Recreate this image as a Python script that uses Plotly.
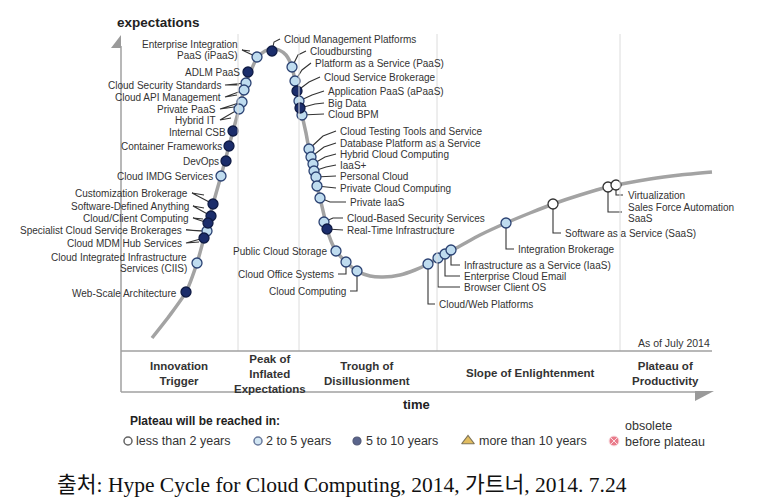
import plotly.graph_objects as go

# ---------------- data ----------------
# Hype curve (time, expectations) (pixel-like units)
curve_x = [152, 170, 186, 197, 204, 213, 221, 229, 239, 246, 257, 265, 272, 279, 286, 292, 295, 299, 302,
           306, 309, 313, 317, 320, 324, 327, 331, 336, 346, 357, 370, 383, 400, 415, 428, 445, 460, 480,
           506, 530, 553, 580, 608, 650, 680, 712]
curve_y = [338, 315, 292, 263, 238, 204, 176, 146, 109, 83, 58, 51, 49, 50, 55, 67, 81, 101, 115,
           133, 149, 164, 186, 198, 215, 229, 241, 251, 262, 271, 276, 277, 275, 270, 264, 254, 246, 235,
           223, 213, 204, 195, 187, 179, 175, 172]

tech_names = [
    "Enterprise Integration PaaS (iPaaS)", "ADLM PaaS", "Cloud Security Standards", "Cloud API Management",
    "Private PaaS", "Hybrid IT", "Internal CSB", "Container Frameworks", "DevOps", "Cloud IMDG Services",
    "Customization Brokerage", "Software-Defined Anything", "Cloud/Client Computing",
    "Specialist Cloud Service Brokerages", "Cloud MDM Hub Services",
    "Cloud Integrated Infrastructure Services (CIIS)", "Web-Scale Architecture",
    "Cloud Management Platforms", "Cloudbursting", "Platform as a Service (PaaS)", "Cloud Service Brokerage",
    "Application PaaS (aPaaS)", "Big Data", "Cloud BPM", "Cloud Testing Tools and Service",
    "Database Platform as a Service", "Hybrid Cloud Computing", "IaaS+", "Personal Cloud",
    "Private Cloud Computing", "Private IaaS", "Cloud-Based Security Services", "Real-Time Infrastructure",
    "Public Cloud Storage", "Cloud Office Systems", "Cloud Computing",
    "Cloud/Web Platforms", "Browser Client OS", "Enterprise Cloud Email", "Infrastructure as a Service (IaaS)",
    "Integration Brokerage", "Software as a Service (SaaS)", "Sales Force Automation SaaS", "Virtualization",
]
tech_x = [257, 248, 246, 244, 242, 239, 233, 229, 226, 221, 213, 211, 208, 207, 204, 197, 186,
          272, 292, 295, 297, 299, 300, 302, 309, 311, 313, 314, 316, 317, 320, 324, 327, 336, 346, 357,
          428, 438, 445, 451, 506, 553, 608, 616]
tech_y = [57, 72, 83, 90, 102, 109, 131, 146, 161, 176, 204, 216, 223, 231, 238, 263, 292,
          51, 67, 81, 91, 101, 108, 115, 149, 157, 164, 171, 177, 186, 198, 222, 229, 251, 262, 271,
          264, 258, 254, 250, 223, 204, 187, 185]
# plateau: "lt2" less than 2 years, "2to5", "5to10"
tech_cat = ["2to5", "5to10", "2to5", "2to5", "2to5", "2to5", "5to10", "5to10", "5to10", "2to5",
            "5to10", "5to10", "5to10", "2to5", "5to10", "2to5", "5to10",
            "5to10", "2to5", "2to5", "5to10", "2to5", "5to10", "2to5", "2to5", "2to5", "2to5", "2to5", "2to5",
            "2to5", "2to5", "2to5", "5to10", "2to5", "2to5", "2to5",
            "2to5", "2to5", "2to5", "2to5", "2to5", "lt2", "lt2", "lt2"]

phase_names = ["Innovation<br>Trigger", "Peak of<br>Inflated<br>Expectations", "Trough of<br>Disillusionment",
               "Slope of Enlightenment", "Plateau of<br>Productivity"]
legend_labels = ["less than 2 years", "2 to 5 years", "5 to 10 years", "more than 10 years",
                 "obsolete<br>before plateau"]

# ---------------- label layout (text lines, side, anchor x, anchor y, connector path) ----------------
label_layout = {
    "Enterprise Integration PaaS (iPaaS)": (["Enterprise Integration", "PaaS (iPaaS)"], "r", 240, [44, 55],
                                            [(242, 50), (250, 51)]),
    "ADLM PaaS": (["ADLM PaaS"], "r", 242, [72], []),
    "Cloud Security Standards": (["Cloud Security Standards"], "r", 223, [85], [(225, 85), (239, 85)]),
    "Cloud API Management": (["Cloud API Management"], "r", 223, [97], [(225, 97), (237, 95)]),
    "Private PaaS": (["Private PaaS"], "r", 218, [109], [(220, 109), (234, 107)]),
    "Hybrid IT": (["Hybrid IT"], "r", 218, [120], [(220, 120), (231, 118)]),
    "Internal CSB": (["Internal CSB"], "r", 228, [132], []),
    "Container Frameworks": (["Container Frameworks"], "r", 224, [146], []),
    "DevOps": (["DevOps"], "r", 221, [161], []),
    "Cloud IMDG Services": (["Cloud IMDG Services"], "r", 215, [176], []),
    "Customization Brokerage": (["Customization Brokerage"], "r", 190, [193], [(192, 193), (204, 195)]),
    "Software-Defined Anything": (["Software-Defined Anything"], "r", 191, [206], [(193, 206), (204, 208)]),
    "Cloud/Client Computing": (["Cloud/Client Computing"], "r", 191, [218], [(193, 218), (203, 219)]),
    "Specialist Cloud Service Brokerages": (["Specialist Cloud Service Brokerages"], "r", 184, [230],
                                            [(186, 230), (200, 231)]),
    "Cloud MDM Hub Services": (["Cloud MDM Hub Services"], "r", 184, [243], [(186, 243), (199, 242)]),
    "Cloud Integrated Infrastructure Services (CIIS)": (["Cloud Integrated Infrastructure", "Services (CIIS)"],
                                                        "r", 189, [257, 268], []),
    "Web-Scale Architecture": (["Web-Scale Architecture"], "r", 179, [293], []),
    "Cloud Management Platforms": (["Cloud Management Platforms"], "l", 282, [39], [(274, 42), (280, 39)]),
    "Cloudbursting": (["Cloudbursting"], "l", 308, [51], [(298, 55), (306, 51)]),
    "Platform as a Service (PaaS)": (["Platform as a Service (PaaS)"], "l", 313, [63], [(302, 70), (311, 63)]),
    "Cloud Service Brokerage": (["Cloud Service Brokerage"], "l", 322, [77], [(309, 82), (320, 77)]),
    "Application PaaS (aPaaS)": (["Application PaaS (aPaaS)"], "l", 326, [91], [(312, 95), (324, 91)]),
    "Big Data": (["Big Data"], "l", 326, [103], [(315, 104), (324, 103)]),
    "Cloud BPM": (["Cloud BPM"], "l", 326, [114], [(324, 114)]),
    "Cloud Testing Tools and Service": (["Cloud Testing Tools and Service"], "l", 338, [131],
                                        [(323, 136), (336, 131)]),
    "Database Platform as a Service": (["Database Platform as a Service"], "l", 338, [143],
                                       [(324, 147), (336, 143)]),
    "Hybrid Cloud Computing": (["Hybrid Cloud Computing"], "l", 338, [154], [(325, 157), (336, 154)]),
    "IaaS+": (["IaaS+"], "l", 338, [165], [(326, 167), (336, 165)]),
    "Personal Cloud": (["Personal Cloud"], "l", 338, [176], [(336, 176)]),
    "Private Cloud Computing": (["Private Cloud Computing"], "l", 338, [188], [(336, 188)]),
    "Private IaaS": (["Private IaaS"], "l", 348, [202], [(330, 202), (346, 202)]),
    "Cloud-Based Security Services": (["Cloud-Based Security Services"], "l", 345, [218],
                                      [(333, 218), (343, 218)]),
    "Real-Time Infrastructure": (["Real-Time Infrastructure"], "l", 345, [230], [(343, 230)]),
    "Public Cloud Storage": (["Public Cloud Storage"], "r", 329, [251], []),
    "Cloud Office Systems": (["Cloud Office Systems"], "r", 336, [274], [(346, 274), (338, 274)]),
    "Cloud Computing": (["Cloud Computing"], "r", 348, [291], [(357, 291), (350, 291)]),
    "Cloud/Web Platforms": (["Cloud/Web Platforms"], "l", 437, [304], [(428, 304), (435, 304)]),
    "Browser Client OS": (["Browser Client OS"], "l", 462, [287], [(438, 287), (460, 287)]),
    "Enterprise Cloud Email": (["Enterprise Cloud Email"], "l", 462, [276], [(445, 276), (460, 276)]),
    "Infrastructure as a Service (IaaS)": (["Infrastructure as a Service (IaaS)"], "l", 462, [265],
                                           [(451, 265), (460, 265)]),
    "Integration Brokerage": (["Integration Brokerage"], "l", 516, [249], [(506, 249), (514, 249)]),
    "Software as a Service (SaaS)": (["Software as a Service (SaaS)"], "l", 563, [233],
                                     [(553, 233), (561, 233)]),
    "Sales Force Automation SaaS": (["Sales Force Automation", "SaaS"], "l", 626, [207, 218],
                                    [(608, 212), (622, 212)]),
    "Virtualization": (["Virtualization"], "l", 626, [195], [(616, 195), (623, 195)]),
}

# ---------------- styles ----------------
FONT = "Liberation Sans, Arial, sans-serif"
TXT = "#333333"
NAVY = "#1b2d6b"
cat_style = {
    "lt2": dict(color="white", line=dict(color="#333333", width=1.3)),
    "2to5": dict(color="#bfdcef", line=dict(color="#2b4273", width=1.3)),
    "5to10": dict(color=NAVY, line=dict(color="#0f1b45", width=1.3)),
}

fig = go.Figure()

# curve
fig.add_trace(go.Scatter(x=curve_x, y=curve_y, mode="lines",
                         line=dict(color="#a3a3a3", width=3.5, shape="spline", smoothing=0.6),
                         hoverinfo="skip"))

# connectors
cx, cy = [], []
for name, x0, y0 in zip(tech_names, tech_x, tech_y):
    path = label_layout[name][4]
    if path:
        cx += [x0] + [p[0] for p in path] + [None]
        cy += [y0] + [p[1] for p in path] + [None]
fig.add_trace(go.Scatter(x=cx, y=cy, mode="lines", line=dict(color="#333333", width=1.1),
                         hoverinfo="skip"))

# dots by category
for cat in ["lt2", "2to5", "5to10"]:
    xs = [x for x, c in zip(tech_x, tech_cat) if c == cat]
    ys = [y for y, c in zip(tech_y, tech_cat) if c == cat]
    nm = [n for n, c in zip(tech_names, tech_cat) if c == cat]
    fig.add_trace(go.Scatter(x=xs, y=ys, mode="markers", text=nm, hoverinfo="text",
                             marker=dict(size=10, **cat_style[cat])))

annotations = []
for name in tech_names:
    lines, side, lx, lys, _ = label_layout[name]
    for t, ly in zip(lines, lys):
        annotations.append(dict(x=lx, y=ly, text=t, showarrow=False,
                                xanchor="right" if side == "r" else "left", yanchor="middle",
                                font=dict(family=FONT, size=10, color=TXT)))

# frame, axes, gridlines
shapes = []
for gx in [238, 299, 437, 620]:
    shapes.append(dict(type="line", x0=gx, x1=gx, y0=34, y1=351, line=dict(color="#dcdcdc", width=1)))
shapes.append(dict(type="line", x0=121, x1=121, y0=46, y1=392, line=dict(color="#a0a0a0", width=1.5)))
shapes.append(dict(type="path", path="M 111 48 L 121 35 L 121 48 Z", fillcolor="#9a9a9a",
                   line=dict(width=0)))
shapes.append(dict(type="line", x0=121, x1=712, y0=351, y1=351, line=dict(color="#a0a0a0", width=1.5)))
shapes.append(dict(type="line", x0=121, x1=700, y0=392, y1=392, line=dict(color="#a0a0a0", width=1.5)))
shapes.append(dict(type="path", path="M 695 391 L 714 391 L 695 401 Z", fillcolor="#9a9a9a",
                   line=dict(width=0)))

annotations.append(dict(x=115, y=22, text="<b>expectations</b>", showarrow=False, xanchor="left",
                        yanchor="middle", font=dict(family=FONT, size=13.5, color="#222")))
annotations.append(dict(x=712, y=343, text="As of July 2014", showarrow=False, xanchor="right",
                        yanchor="middle", font=dict(family=FONT, size=10.5, color=TXT)))
phase_x = [179, 270, 367, 530, 665]
phase_y = [373, 374, 373, 373, 373]
for t, px, py in zip(phase_names, phase_x, phase_y):
    annotations.append(dict(x=px, y=py, text="<b>" + t + "</b>", showarrow=False, xanchor="center",
                            yanchor="middle", font=dict(family=FONT, size=11.5, color=TXT)))
annotations.append(dict(x=416, y=404, text="<b>time</b>", showarrow=False, xanchor="center",
                        yanchor="middle", font=dict(family=FONT, size=13, color="#222")))
annotations.append(dict(x=128, y=421, text="<b>Plateau will be reached in:</b>", showarrow=False,
                        xanchor="left", yanchor="middle", font=dict(family=FONT, size=12, color="#222")))

# legend
leg_mx = [128, 258, 357, 468, 614]
leg_tx = [134, 264, 364, 477, 623]
leg_sym = ["circle", "circle", "circle", "triangle-up", "circle-x"]
leg_fill = ["white", "#bfdcef", "#15245c", "#d6a21e", "#e0435a"]
leg_line = ["#222222", "#2b4273", "#0c163f", "#4a3a10", "#f9d6db"]
fig.add_trace(go.Scatter(x=leg_mx, y=[441] * 5, mode="markers", hoverinfo="skip",
                         marker=dict(size=[8, 8, 8, 11, 10], symbol=leg_sym, color=leg_fill,
                                     line=dict(color=leg_line, width=[1.5, 1.5, 1.2, 1.2, 1]))))
for t, tx in zip(legend_labels, leg_tx):
    annotations.append(dict(x=tx, y=441 if "<br>" not in t else 434, text=t, showarrow=False,
                            xanchor="left", yanchor="middle", align="left",
                            font=dict(family=FONT, size=12.5, color=TXT)))

annotations.append(dict(x=55, y=485, text="출처: Hype Cycle for Cloud Computing, 2014, 가트너, 2014. 7.24",
                        showarrow=False, xanchor="left", yanchor="middle",
                        font=dict(family="Liberation Serif, Noto Sans CJK KR, serif", size=21.5, color="#111")))

fig.update_layout(
    width=759, height=500, margin=dict(l=0, r=0, t=0, b=0),
    paper_bgcolor="white", plot_bgcolor="white", showlegend=False,
    xaxis=dict(range=[0, 759], visible=False, fixedrange=True),
    yaxis=dict(range=[500, 0], visible=False, fixedrange=True),
    shapes=shapes, annotations=annotations,
)
fig.write_html("out.html")
